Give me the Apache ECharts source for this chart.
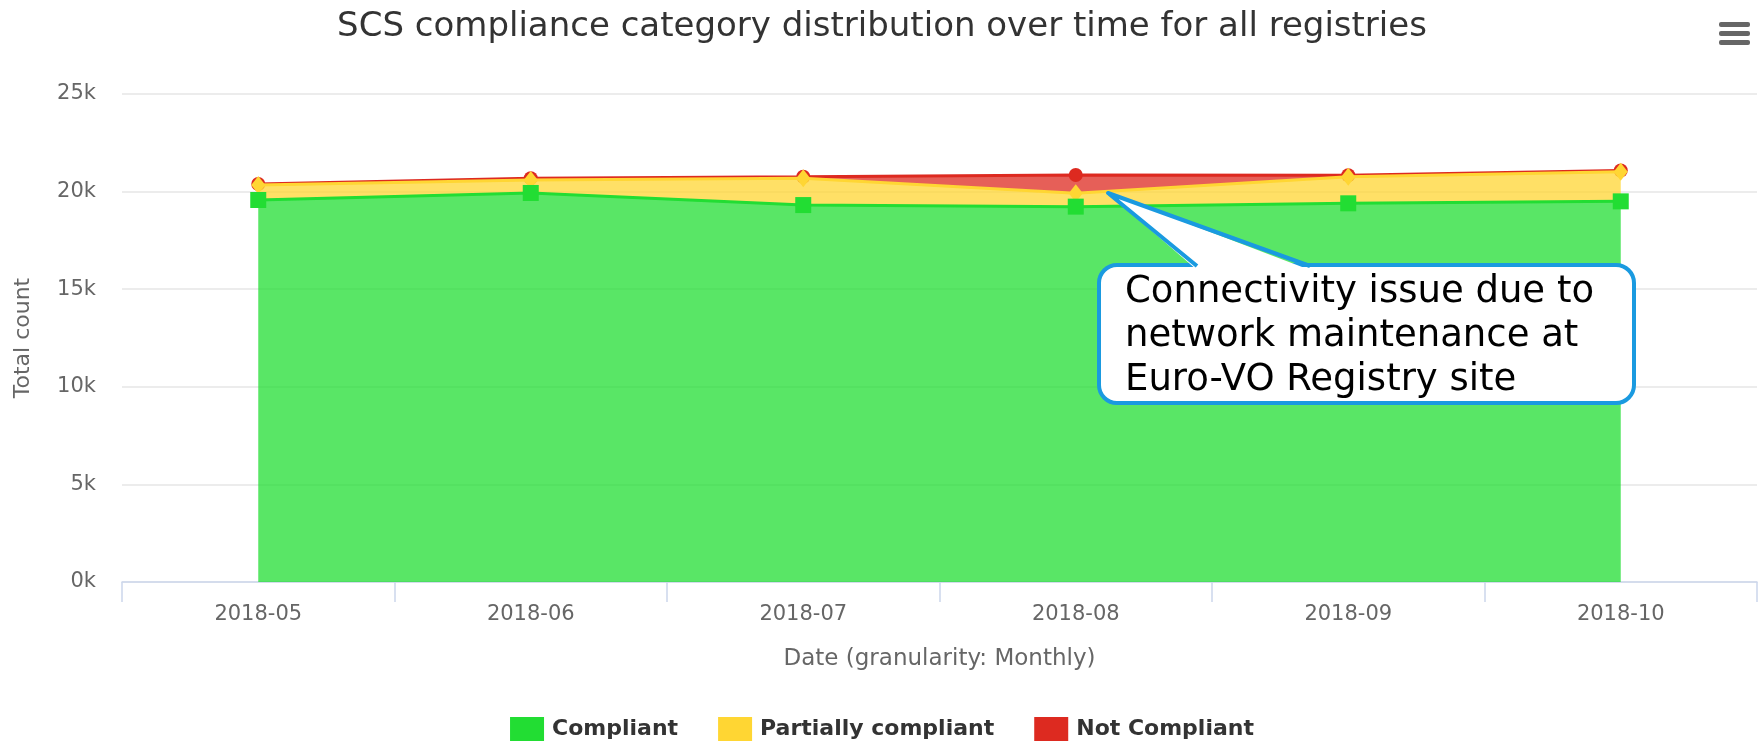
<!DOCTYPE html>
<html>
<head>
<meta charset="utf-8">
<script src="https://cdn.jsdelivr.net/npm/echarts@6/dist/echarts.min.js"></script>
<style>
  html, body { margin: 0; padding: 0; background: #fff; }
  #main { width: 1764px; height: 743px; }
</style>
</head>
<body>
<div id="main"></div>
<script>
// 月份
var months = ['2018-05', '2018-06', '2018-07', '2018-08', '2018-09', '2018-10'];
// 各类别数量（堆叠）
var compliant = [19570, 19930, 19310, 19230, 19400, 19500];
var partial = [770, 660, 1370, 680, 1360, 1520];
var notCompliant = [50, 100, 80, 940, 80, 60];
var yTicks = [0, 5000, 10000, 15000, 20000, 25000];

var font = 'DejaVu Sans, Verdana, sans-serif';

var myChart = echarts.init(document.getElementById('main'));

function areaSeries(name, data, color, symbol, size, z) {
    return {
        name: name,
        type: 'line',
        stack: 'total',
        data: data,
        z: z,
        symbol: symbol,
        symbolSize: size,
        showSymbol: true,
        itemStyle: { color: color, opacity: 1 },
        lineStyle: { color: color, width: 3 },
        areaStyle: { color: color, opacity: 0.75 },
        emphasis: { disabled: true }
    };
}

myChart.setOption({
    animation: false,
    color: ['#22dd33', '#ffd633', '#dd2a20'],
    title: {
        text: 'SCS compliance category distribution over time for all registries',
        left: 'center',
        top: 5,
        textStyle: { fontFamily: font, fontSize: 34, fontWeight: 'normal', color: '#333333' }
    },
    legend: {
        data: ['Compliant', 'Partially compliant', 'Not Compliant'],
        bottom: 2,
        padding: 0,
        left: 'center',
        icon: 'rect',
        itemWidth: 34,
        itemHeight: 24,
        itemGap: 40,
        textStyle: { fontFamily: font, fontSize: 22, fontWeight: 'bold', color: '#333333', padding: [0, 0, 0, 3] }
    },
    grid: { left: 122, right: 7, top: 94, bottom: 161 },
    xAxis: {
        type: 'category',
        data: months,
        boundaryGap: true,
        name: 'Date (granularity: Monthly)',
        nameLocation: 'middle',
        nameGap: 66,
        nameTextStyle: { fontFamily: font, fontSize: 23, color: '#666666' },
        axisLine: { show: true, lineStyle: { color: '#ccd6eb', width: 1.5 } },
        axisTick: { show: true, alignWithLabel: false, interval: 0, length: 20, lineStyle: { color: '#ccd6eb', width: 1.5 } },
        axisLabel: { fontFamily: font, fontSize: 21, color: '#666666', margin: 22 }
    },
    yAxis: {
        type: 'value',
        min: yTicks[0],
        max: yTicks[yTicks.length - 1],
        interval: yTicks[1] - yTicks[0],
        name: 'Total count',
        nameLocation: 'middle',
        nameGap: 88,
        nameTextStyle: { fontFamily: font, fontSize: 22, color: '#666666' },
        axisLine: { show: false },
        axisTick: { show: false },
        splitLine: { lineStyle: { color: '#e6e6e6', width: 1.5 } },
        axisLabel: {
            fontFamily: font, fontSize: 21, color: '#666666', margin: 26,
            formatter: function (v) { return (v / 1000) + 'k'; }
        }
    },
    series: [
        areaSeries('Compliant', compliant, '#22dd33', 'rect', 16, 5),
        areaSeries('Partially compliant', partial, '#ffd633', 'diamond', [14, 18], 4),
        areaSeries('Not Compliant', notCompliant, '#dd2a20', 'circle', 14, 3)
    ],
    graphic: [
        // 菜单图标
        { type: 'rect', left: 1719, top: 22, shape: { width: 31, height: 5, r: 2 }, style: { fill: '#666666' } },
        { type: 'rect', left: 1719, top: 31, shape: { width: 31, height: 5, r: 2 }, style: { fill: '#666666' } },
        { type: 'rect', left: 1719, top: 40, shape: { width: 31, height: 5, r: 2 }, style: { fill: '#666666' } },
        // 标注框
        {
            type: 'rect', z: 100,
            shape: { x: 1099, y: 265, width: 535, height: 138, r: 18 },
            style: { fill: '#ffffff', stroke: '#1a9ae0', lineWidth: 4 }
        },
        {
            type: 'polygon', z: 101,
            shape: { points: [[1197, 270], [1108, 193], [1310, 270]] },
            style: { fill: '#ffffff' }
        },
        {
            type: 'polyline', z: 102,
            shape: { points: [[1197, 266], [1108, 193], [1310, 266]] },
            style: { stroke: '#1a9ae0', lineWidth: 4, fill: null, lineJoin: 'round' }
        },
        {
            type: 'text', z: 103,
            left: 1125, top: 270,
            style: {
                text: 'Connectivity issue due to\nnetwork maintenance at\nEuro-VO Registry site',
                fontFamily: font, fontSize: 37, lineHeight: 44, fill: '#000000'
            }
        }
    ]
});
</script>
</body>
</html>
